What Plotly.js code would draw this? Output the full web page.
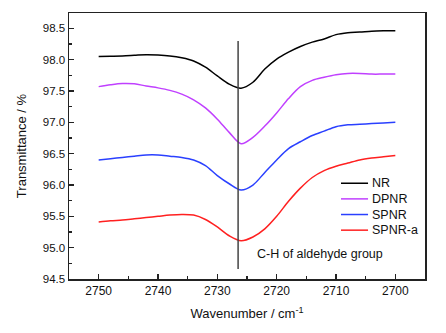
<!DOCTYPE html>
<html>
<head>
<meta charset="utf-8">
<script src="https://cdn.plot.ly/plotly-3.0.1.min.js"></script>
<style>html,body{margin:0;padding:0;background:#fff;}#chart{width:446px;height:333px;}</style>
</head>
<body>
<div id="chart"></div>
<script>
const wavenumber = [2750,2748,2746,2744,2742,2740,2738,2736,2734,2732,2730,2728,2726,2724,2722,2720,2718,2716,2714,2712,2710,2708,2706,2704,2702,2700];
const NR    = [98.05,98.055,98.06,98.07,98.08,98.075,98.06,98.03,97.98,97.88,97.74,97.61,97.545,97.64,97.85,98.01,98.12,98.21,98.28,98.33,98.40,98.43,98.44,98.455,98.46,98.46];
const DPNR  = [97.57,97.60,97.62,97.615,97.58,97.55,97.51,97.45,97.36,97.23,97.05,96.84,96.66,96.76,96.94,97.15,97.38,97.57,97.67,97.72,97.76,97.78,97.78,97.77,97.77,97.77];
const SPNR  = [96.40,96.42,96.44,96.46,96.48,96.48,96.46,96.44,96.40,96.31,96.15,96.02,95.92,96.00,96.20,96.40,96.58,96.69,96.79,96.86,96.93,96.96,96.97,96.98,96.99,97.00];
const SPNRa = [95.41,95.43,95.44,95.46,95.48,95.50,95.52,95.53,95.52,95.45,95.33,95.19,95.11,95.17,95.30,95.50,95.74,95.95,96.12,96.23,96.30,96.35,96.40,96.43,96.45,96.47];
const seriesNames = ["NR","DPNR","SPNR","SPNR-a"];
const seriesColors = ["#000000","#c040ff","#2a40ff","#ff2020"];
const markerX = 2726.5;
const markerY = [94.66, 98.30];
const annotationText = "C-H of aldehyde group";

const font = "Liberation Sans, Arial, Helvetica, sans-serif";
const allY = [NR, DPNR, SPNR, SPNRa];
const traces = allY.map((y, i) => ({
  x: wavenumber, y: y, type: "scatter", mode: "lines", name: seriesNames[i],
  line: {color: seriesColors[i], width: 1.5, shape: "spline", smoothing: 0.9}
}));

// custom legend (paper coordinates) for tighter row spacing
const legX0 = 0.764, legX1 = 0.840, legTextX = 0.846, legTop = 0.360, legStep = 0.0588;
const legendShapes = seriesNames.map((n, i) => ({
  type: "line", xref: "paper", yref: "paper",
  x0: legX0, x1: legX1, y0: legTop - i * legStep, y1: legTop - i * legStep,
  line: {color: seriesColors[i], width: 1.5}
}));
const legendTexts = seriesNames.map((n, i) => ({
  xref: "paper", yref: "paper", x: legTextX, y: legTop - i * legStep,
  xanchor: "left", yanchor: "middle", text: n, showarrow: false,
  font: {family: font, size: 12.5, color: "#111"}
}));

const axisCommon = {
  showline: true, mirror: true, linecolor: "#222", linewidth: 1.5,
  ticks: "inside", ticklen: 5, tickwidth: 1.2, tickcolor: "#222",
  showgrid: false, zeroline: false,
  tickfont: {family: font, size: 11.5, color: "#111"}
};

const layout = {
  width: 446, height: 333,
  margin: {l: 69, r: 21, t: 13, b: 54},
  paper_bgcolor: "#fff", plot_bgcolor: "#fff",
  showlegend: false,
  xaxis: Object.assign({}, axisCommon, {
    range: [2755, 2695], dtick: 10, tick0: 2700,
    minor: {ticks: "inside", ticklen: 3, dtick: 5, tick0: 2700, tickcolor: "#222", tickwidth: 1.2},
    title: {text: "Wavenumber / cm<sup>-1</sup>", font: {family: font, size: 13, color: "#111"}, standoff: 12},
    tickfont: {family: font, size: 12, color: "#111"}
  }),
  yaxis: Object.assign({}, axisCommon, {
    range: [94.5, 98.745], dtick: 0.5, tick0: 94.5, tickformat: ".1f",
    minor: {ticks: "inside", ticklen: 3, dtick: 0.25, tick0: 94.5, tickcolor: "#222", tickwidth: 1.2},
    title: {text: "Transmittance / %", font: {family: font, size: 13, color: "#111"}, standoff: 13}
  }),
  shapes: [{type: "line", xref: "x", yref: "y", x0: markerX, x1: markerX, y0: markerY[0], y1: markerY[1],
            line: {color: "#444", width: 1.5}}].concat(legendShapes),
  annotations: [{xref: "x", yref: "y", x: 2723.6, y: 94.9, xanchor: "left", yanchor: "middle",
                 text: annotationText, showarrow: false, font: {family: font, size: 12.5, color: "#111"}}].concat(legendTexts)
};

Plotly.newPlot("chart", traces, layout, {displayModeBar: false, staticPlot: true});
</script>
</body>
</html>
